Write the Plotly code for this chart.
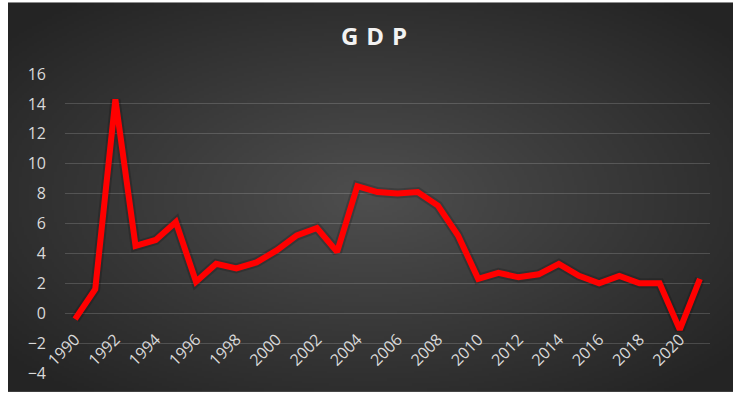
import base64
import struct
import zlib

import numpy as np
import plotly.graph_objects as go

# Annual GDP growth (%)
years = list(range(1990, 2022))
gdp_growth = [-0.4, 1.6, 14.3, 4.5, 4.9, 6.1, 2.1, 3.3, 3.0, 3.4,
              4.2, 5.2, 5.7, 4.1, 8.5, 8.1, 8.0, 8.1, 7.2, 5.2,
              2.3, 2.7, 2.4, 2.6, 3.3, 2.5, 2.0, 2.5, 2.0, 2.0,
              -1.1, 2.3]
tick_years = list(range(1990, 2021, 2))
y_ticks = list(range(-4, 17, 2))

W, H = 733, 396
L, R, T, B = 65, 23, 74, 21
plot_w, plot_h = W - L - R, H - T - B


def radial_png(w, h, inner, outer):
    """Build a small PNG holding a dark radial gradient."""
    yy, xx = np.mgrid[0:h, 0:w]
    nx = (xx - (w - 1) / 2) / (w / 2)
    ny = (yy - (h - 1) / 2) / (h / 2)
    t = np.clip(np.sqrt(nx ** 2 + ny ** 2) / 1.3, 0, 1)
    inner = np.array(inner, float)
    outer = np.array(outer, float)
    rgb = inner[None, None, :] + (outer - inner)[None, None, :] * t[..., None]
    rgb = rgb.round().astype(np.uint8)
    raw = b"".join(b"\x00" + rgb[r].tobytes() for r in range(h))

    def chunk(tag, data):
        c = struct.pack(">I", len(data)) + tag + data
        return c + struct.pack(">I", zlib.crc32(tag + data) & 0xFFFFFFFF)

    png = b"\x89PNG\r\n\x1a\n"
    png += chunk(b"IHDR", struct.pack(">IIBBBBB", w, h, 8, 2, 0, 0, 0))
    png += chunk(b"IDAT", zlib.compress(raw, 9))
    png += chunk(b"IEND", b"")
    return "data:image/png;base64," + base64.b64encode(png).decode()


bg_src = radial_png(290, 157, (78, 78, 78), (36, 36, 36))

# chart panel, in pixels: x 8..733, y 2..394
px0, px1, py0, py1 = 8, 733, 2, 394

fig = go.Figure()

# soft shadow under the line
fig.add_trace(go.Scatter(
    x=years, y=gdp_growth, mode="lines",
    line=dict(color="rgba(0,0,0,0.18)", width=10),
    hoverinfo="skip", showlegend=False,
))
fig.add_trace(go.Scatter(
    x=years, y=gdp_growth, mode="lines",
    line=dict(color="#ff0000", width=6),
    name="GDP", showlegend=False,
))

tick_font = dict(family="'Open Sans', sans-serif", size=16, color="#d9d9d9")

fig.update_layout(
    width=W, height=H,
    margin=dict(l=L, r=R, t=T, b=B, pad=0),
    paper_bgcolor="white",
    plot_bgcolor="rgba(0,0,0,0)",
    title=dict(
        text="<b>G\u2004D\u2004P</b>",
        x=(374) / W, xanchor="center",
        y=1 - 37 / H, yanchor="middle",
        font=dict(family="'Open Sans', sans-serif", size=24, color="#f2f2f2"),
    ),
    images=[dict(
        source=bg_src, xref="paper", yref="paper",
        x=(px0 - L) / plot_w, y=(H - B - py0) / plot_h,
        sizex=(px1 - px0) / plot_w, sizey=(py1 - py0) / plot_h,
        xanchor="left", yanchor="top", sizing="stretch", layer="below",
    )],
    xaxis=dict(
        range=[1989.5, 2021.5],
        tickvals=tick_years, ticktext=[str(v) for v in tick_years],
        tickangle=-45, tickfont=tick_font,
        showgrid=False, zeroline=False, showline=False, ticks="",
        anchor="free", position=4 / 20,
        ticklabelstandoff=13,
    ),
    yaxis=dict(
        range=[-4, 16], tickvals=y_ticks,
        tickfont=tick_font,
        showgrid=True, gridcolor="rgba(255,255,255,0.16)", gridwidth=1.2,
        zeroline=False, showline=False, ticks="",
        ticklabelstandoff=18,
    ),
)

fig.write_html("out.html")
